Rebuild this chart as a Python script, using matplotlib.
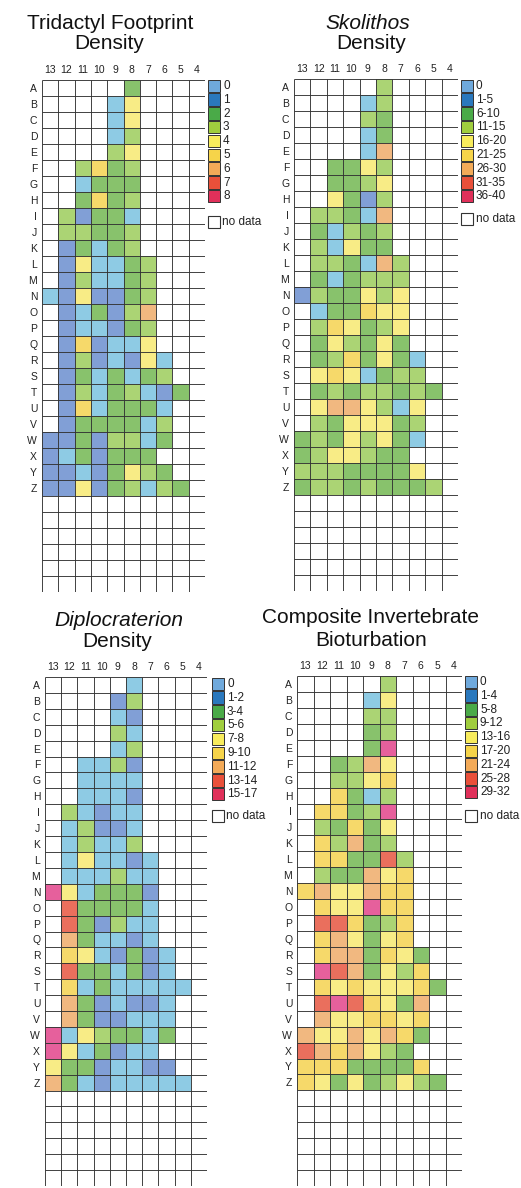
import numpy as np
import matplotlib
matplotlib.use("Agg")
import matplotlib.pyplot as plt
from matplotlib.colors import ListedColormap, BoundaryNorm
from matplotlib.patches import Rectangle

plt.rcParams['font.family'] = ['Liberation Sans', 'DejaVu Sans']

W, H = 521, 1188
columns = ["13", "12", "11", "10", "9", "8", "7", "6", "5", "4"]
rows = [chr(c) for c in range(ord('A'), ord('Z') + 1)]
n_extra_rows = 6

# class index per cell ('_' = no data), columns 13 -> 4
tridactyl = [
    "_____2____", "____04____", "____04____", "____03____", "____34____",
    "__3523____", "__0222____", "__2523____", "_31220____", "_33223____",
    "_12023____", "_140023___", "_130023___", "0141123___", "_102136___",
    "_100123___", "_151004___", "_1310140__", "_1202023__", "_13023012_",
    "_1502220__", "_1222203__", "11213302__", "1021222___", "11012432__",
    "114123032_",
]
skolithos = [
    "_____3____", "____03____", "____32____", "____02____", "____06____",
    "__2243____", "__2234____", "__4213____", "_33206____", "_20323____",
    "_30422____", "_332063___", "_202333___", "1322434___", "_022544___",
    "_354234___", "_243242___", "_2352420__", "_4540233__", "_23233232_",
    "_4664304__", "_3244423__", "23243420__", "2344322___", "33322224__",
    "233232223_",
]
diplocraterion = [
    "_____0____", "____13____", "____01____", "____30____", "____03____",
    "__0031____", "__0000____", "__0001____", "_30100____", "_03110____",
    "_03003____", "_040010___", "_000300___", "8402221___", "_722220___",
    "_721300___", "_620010___", "_5401210__", "_7220210__", "_50200000_",
    "_6210110__", "_6211000__", "80432202__", "8402100___", "42210011__",
    "620100000_",
]
composite = [
    "_____3____", "____04____", "____33____", "____23____", "____28____",
    "__2364____", "__3345____", "__5203____", "_55238____", "_32524____",
    "_53623____", "_552273___", "_322645___", "5644655___", "_544855___",
    "_775235___", "_564245___", "_5662542__", "_8762435__", "_54544452_",
    "_7875426__", "_6445545__", "64464652__", "7656432___", "55522225__",
    "542423432_",
]

legend_tridactyl = ["0", "1", "2", "3", "4", "5", "6", "7", "8"]
legend_skolithos = ["0", "1-5", "6-10", "11-15", "16-20", "21-25", "26-30", "31-35", "36-40"]
legend_diplo = ["0", "1-2", "3-4", "5-6", "7-8", "9-10", "11-12", "13-14", "15-17"]
legend_composite = ["0", "1-4", "5-8", "9-12", "13-16", "17-20", "21-24", "25-28", "29-32"]

cell_colors = ["#8ecbe4", "#819fd6", "#88c26c", "#abd474", "#f8ec86",
               "#f6d96a", "#f1b880", "#ea6f5d", "#e6609c"]
legend_colors = ["#6fa9dc", "#2a78bd", "#4aaa48", "#a0ce3e", "#f8ec5c",
                 "#f6d44a", "#f3aa58", "#e9503a", "#e0305a"]

cmap = ListedColormap(cell_colors)
cmap.set_bad("white")
norm = BoundaryNorm(np.arange(-0.5, 9.5, 1), cmap.N)

panels = [
    dict(data=tridactyl, title=["Tridactyl Footprint", "Density"], italic=[False, False],
         grid=(42, 80, 205, 592), tcx=[110, 109], tby=[29, 49],
         leg=legend_tridactyl, lx=208, ltop=79, nd_top=216),
    dict(data=skolithos, title=["Skolithos", "Density"], italic=[True, False],
         grid=(294, 79, 458, 591), tcx=[368, 371], tby=[29, 49],
         leg=legend_skolithos, lx=461, ltop=79, nd_top=213),
    dict(data=diplocraterion, title=["Diplocraterion", "Density"], italic=[True, False],
         grid=(45, 677, 207, 1186), tcx=[119, 117], tby=[626, 647],
         leg=legend_diplo, lx=212, ltop=677, nd_top=810),
    dict(data=composite, title=["Composite Invertebrate", "Bioturbation"], italic=[False, False],
         grid=(297, 676, 462, 1186), tcx=[370, 371], tby=[623, 646],
         leg=legend_composite, lx=465, ltop=675, nd_top=810),
]

fig = plt.figure(figsize=(W / 100, H / 100), dpi=100)
over = fig.add_axes([0, 0, 1, 1])
over.set_xlim(0, W)
over.set_ylim(H, 0)
over.axis("off")

for p in panels:
    x0, y0, x1, y1 = p["grid"]
    ax = fig.add_axes([x0 / W, 1 - y1 / H, (x1 - x0) / W, (y1 - y0) / H])
    nrows = len(rows) + n_extra_rows
    arr = np.full((nrows, len(columns)), np.nan)
    for i, r in enumerate(p["data"]):
        for j, ch in enumerate(r):
            if ch != "_":
                arr[i, j] = int(ch)
    ax.pcolormesh(np.arange(len(columns) + 1), np.arange(nrows + 1),
                  np.ma.masked_invalid(arr), cmap=cmap, norm=norm)
    ax.set_xlim(0, len(columns))
    ax.set_ylim(nrows, 0)
    ax.hlines(np.arange(nrows + 1), 0, len(columns), color="#333333", lw=0.65)
    ax.vlines(np.arange(len(columns) + 1), 0, nrows, color="#333333", lw=0.65)
    for s in ax.spines.values():
        s.set_visible(False)
    ax.xaxis.tick_top()
    ax.set_xticks(np.arange(len(columns)) + 0.5)
    ax.set_xticklabels(columns, fontsize=7.5, color="#222222")
    ax.set_yticks(np.arange(len(rows)) + 0.5)
    ax.set_yticklabels(rows, fontsize=7.5, color="#222222")
    ax.tick_params(length=0, pad=3.5)

    for k, (t, it) in enumerate(zip(p["title"], p["italic"])):
        over.text(p["tcx"][k], p["tby"][k], t, fontsize=15, ha="center", va="baseline",
                  style="italic" if it else "normal", color="#111111")

    lx = p["lx"]
    pitch = 13.8
    for k, lab in enumerate(p["leg"]):
        yt = p["ltop"] + k * pitch
        over.add_patch(Rectangle((lx, yt + 0.6), 11.5, 12.4, facecolor=legend_colors[k],
                                 edgecolor="#333333", lw=0.7))
        over.text(lx + 15, yt + 7, lab, fontsize=8.5, ha="left", va="center", color="#222222")
    over.add_patch(Rectangle((lx, p["nd_top"]), 11.5, 11.5, facecolor="white",
                             edgecolor="#333333", lw=0.8))
    over.text(lx + 14.5, p["nd_top"] + 5.8, "no data", fontsize=8.5, ha="left", va="center",
              color="#222222")

fig.savefig("out.png", dpi=100, facecolor="white")
